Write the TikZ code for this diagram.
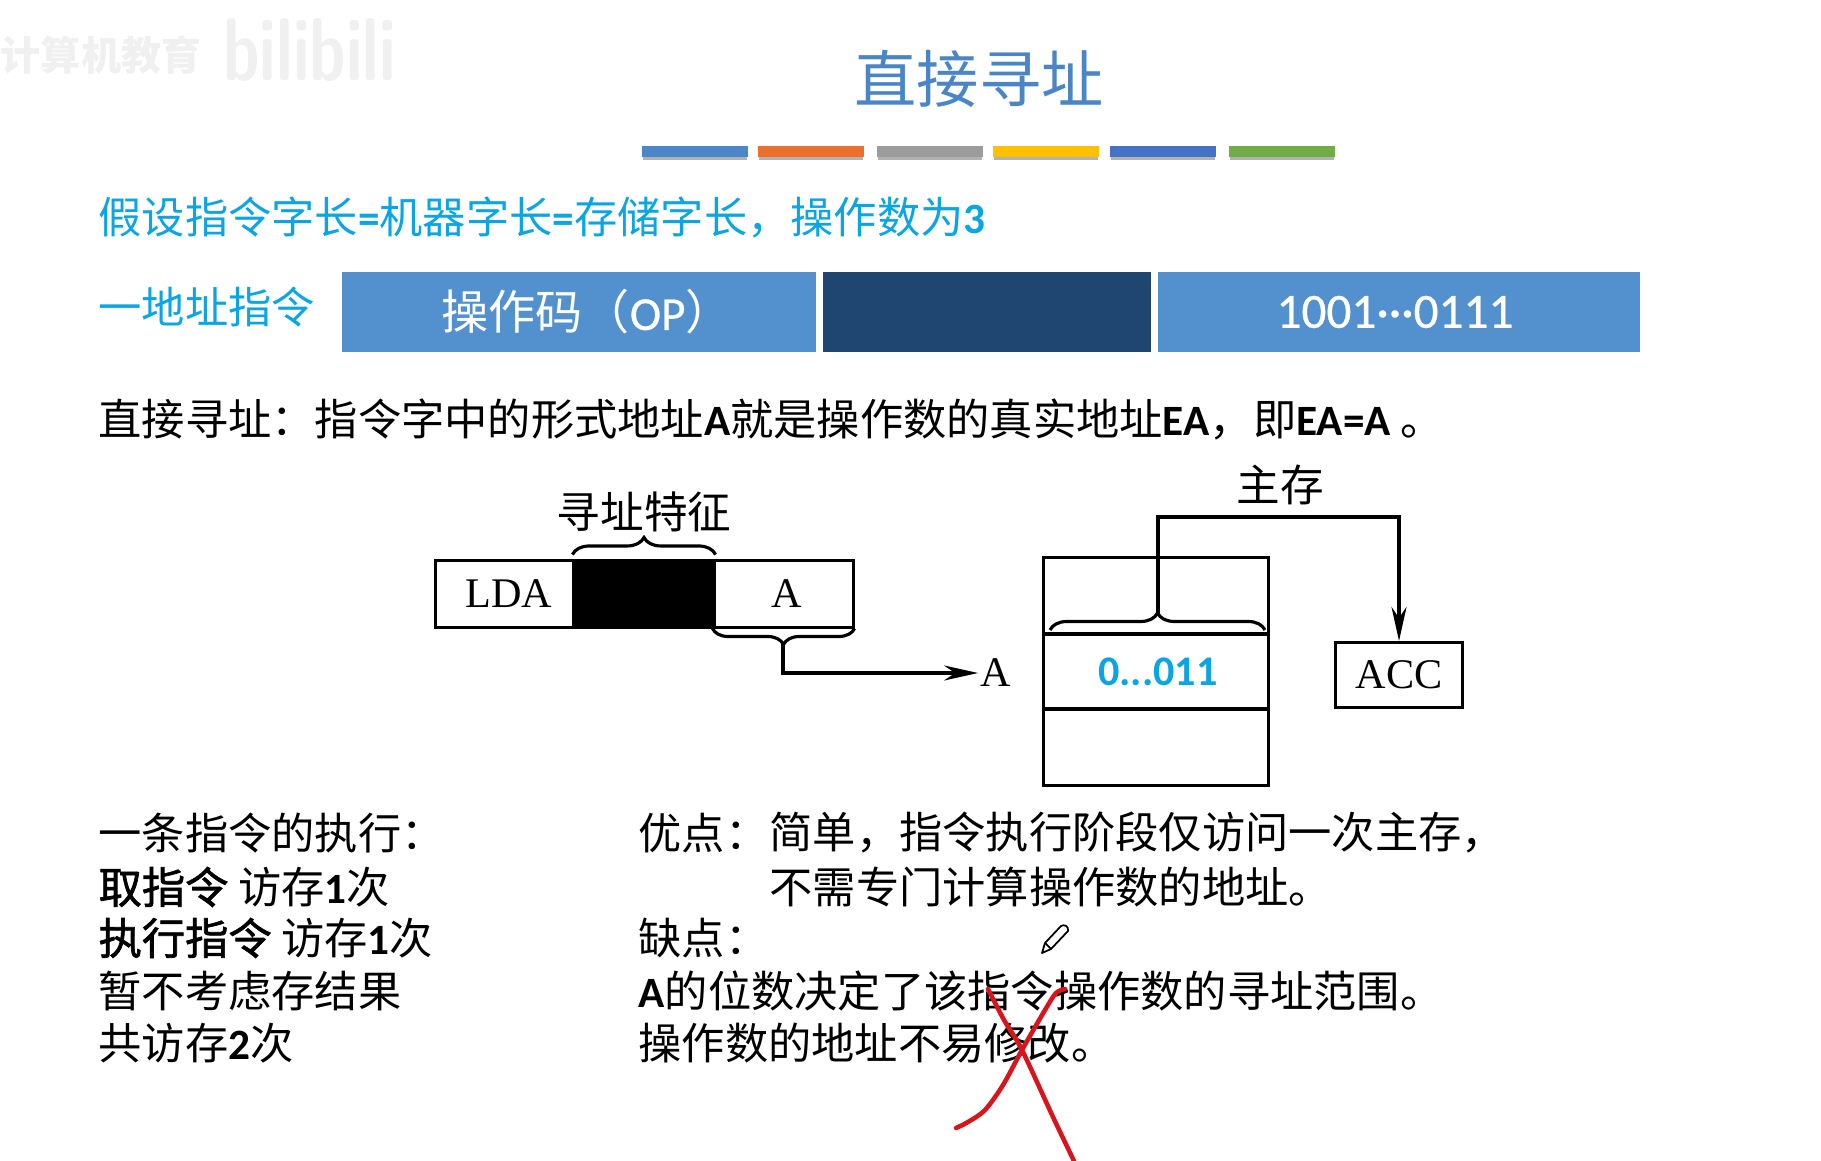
\documentclass[tikz,border=0pt]{standalone}
\usepackage{fontspec}
\setmainfont{Liberation Serif}
\newfontfamily\cjk{Noto Sans CJK SC}
\newfontfamily\cjkb[FakeBold=1.6]{Noto Sans CJK SC}
\newfontfamily\lat{Carlito}
\newfontfamily\latm[FakeBold=0.6]{Carlito}
\newcommand{\latb}[1]{{\lat\bfseries #1}}
\usepackage{xcolor}
\usetikzlibrary{arrows.meta,decorations.pathreplacing}
\definecolor{titleblue}{HTML}{4A86C5}
\definecolor{hintcyan}{HTML}{0AA5E2}
\definecolor{fieldblue}{HTML}{5390CE}
\definecolor{fielddark}{HTML}{1E4670}
\definecolor{penred}{HTML}{D8141C}
\tikzset{
  bodytext/.style={anchor=west,inner sep=0pt,font=\cjk\fontsize{12.3}{14}\selectfont},
  hinttext/.style={bodytext,text=hintcyan},
  field/.style={inner sep=0pt,minimum height=0.8cm,text=white,font=\cjk\fontsize{13.4}{15}\selectfont},
  cell/.style={draw,line width=0.85pt,inner sep=0pt,font=\fontsize{12}{14}\selectfont},
  capt/.style={inner sep=0pt,font=\cjk\fontsize{12.4}{14}\selectfont},
  colorbar/.style={minimum width=1.05cm,minimum height=0.11cm,inner sep=0pt},
  brc/.style={decorate,line width=0.9pt},
  penstroke/.style={penred,line width=1.3pt,line cap=round,line join=round}
}
\begin{document}
\begin{tikzpicture}[x=0.01cm,y=-0.01cm,>={Stealth[length=3.4mm,width=1.5mm]},line width=0.95pt]
\useasboundingbox (0,0) rectangle (1821,1161);
% faint mark in the corner
\node[inner sep=0pt,anchor=east,text=black!6,font=\cjk\bfseries\fontsize{11.4}{14}\selectfont] (markcn) at (203,55) {计算机教育};
\node[inner sep=0pt,anchor=west,xscale=0.84,yscale=1.15,text=black!6,font=\sffamily\bfseries\fontsize{22}{24}\selectfont] (markbl) at (222,50) {bilibili};
% title and colour bars
\node[inner sep=0pt,text=titleblue,font=\cjk\fontsize{17.7}{20}\selectfont] (title) at (979,79) {直接寻址};
\foreach \name/\xa/\col in {b1/695/4A86C8,b2/811/EB702D,b3/930/9C9C9C,b4/1046/FFC000,b5/1163/4472C4,b6/1282/70AD47}{
  \definecolor{barcol}{HTML}{\col}
  \fill[black!30] (\xa-52,154) rectangle (\xa+52,160);
  \node[colorbar,fill=barcol] (\name) at (\xa,152) {};
}
% instruction format
\node[hinttext] (assume) at (97,217) {假设指令字长\latb{=}机器字长\latb{=}存储字长，操作数为\latb{3}};
\node[hinttext] (oneaddr) at (97,307) {一地址指令};
\node[field,fill=fieldblue,minimum width=4.74cm] (opfield) at (579,312) {\hspace*{0.16cm}\raisebox{-1pt}{操作码（{\latm OP}）}};
\node[field,fill=fielddark,minimum width=3.27cm] (modefield) at (987,312) {};
\node[field,fill=fieldblue,minimum width=4.82cm,font=\latm\fontsize{14}{16}\selectfont] (addrfield) at (1399,312) {\raisebox{-1pt}{1001···0111}\hspace*{0.08cm}};
\node[bodytext] (define) at (97,419) {直接寻址：指令字中的形式地址\latb{A}就是操作数的真实地址\latb{EA}，即\latb{EA=A} 。};
% instruction word
\node[cell,minimum width=1.38cm,minimum height=0.66cm] (lda) at (505,594) {\hspace*{0.08cm}LDA};
\node[cell,fill=black,minimum width=1.40cm,minimum height=0.66cm] (mode) at (644,594) {};
\node[cell,minimum width=1.39cm,minimum height=0.66cm] (addr) at (783.5,594) {\hspace*{0.06cm}A};
\draw[brc,decoration={brace,amplitude=0.17cm}] ([yshift=0.05cm]mode.north west) -- ([yshift=0.05cm]mode.north east);
\node[capt] (modelabel) at (644,512) {寻址特征};
\draw[brc,decoration={brace,amplitude=0.16cm,mirror}] (addr.south west) -- (addr.south east);
\coordinate (addrtip) at (783,643);
\node[inner ysep=0pt,inner xsep=0.01cm,font=\fontsize{12}{14}\selectfont] (addrname) at (996,673) {A};
\draw[->] (addrtip) |- (addrname.west);
% main memory
\node[cell,minimum width=2.24cm,minimum height=0.76cm] (mtop) at (1156,596) {};
\node[cell,minimum width=2.24cm,minimum height=0.75cm,text=hintcyan,font=\lat\bfseries\fontsize{12}{14}\selectfont] (mdata) at (1156,671.5) {\hspace*{0.04cm}0...011};
\node[cell,minimum width=2.24cm,minimum height=0.76cm] (mbot) at (1156,747) {};
\draw[brc,decoration={brace,amplitude=0.17cm}] (1050,630) -- (1265,630);
\node[cell,minimum width=1.27cm,minimum height=0.65cm] (acc) at (1399,675) {ACC};
\node[capt] (memlabel) at (1280,485) {主存};
\coordinate (memtip) at (1158,613);
\coordinate (memtop) at (1158,517);
\draw[->] (memtip) -- (memtop) -| (acc.north);
% bottom text
\node[bodytext] (exec1) at (97,833) {一条指令的执行：};
\node[bodytext] (exec2) at (97,887) {{\cjkb 取指令} 访存\latb{1}次};
\node[bodytext] (exec3) at (97,938) {{\cjkb 执行指令} 访存\latb{1}次};
\node[bodytext] (exec4) at (97,991) {暂不考虑存结果};
\node[bodytext] (exec5) at (97,1043) {共访存\latb{2}次};
\node[bodytext] (pro) at (637,833) {优点：};
\node[bodytext] (pro1) at (768,833) {简单，指令执行阶段仅访问一次主存，};
\node[bodytext] (pro2) at (768,887) {不需专门计算操作数的地址。};
\node[bodytext] (con) at (637,938) {缺点：};
\node[bodytext] (con1) at (637,991) {\latb{A}的位数决定了该指令操作数的寻址范围。};
\node[bodytext] (con2) at (637,1043) {操作数的地址不易修改。};
% pen marks
\draw[penstroke] plot[smooth] coordinates {(988,989) (1004,1020) (1022,1050) (1053,1117) (1074,1161)};
\draw[penstroke] plot[smooth] coordinates {(1065,989) (1056,993) (1045,1010) (1022,1050) (1003,1085) (985,1110) (968,1122) (956,1128)};
\draw[line width=0.5pt,line join=round,fill=white] (1042,953) -- (1045,943) -- (1061,926) .. controls (1064,924) and (1069,926) .. (1068,931) -- (1051,949) -- cycle;
\draw[line width=0.5pt] (1045,943) -- (1051,949);
\end{tikzpicture}
\end{document}
